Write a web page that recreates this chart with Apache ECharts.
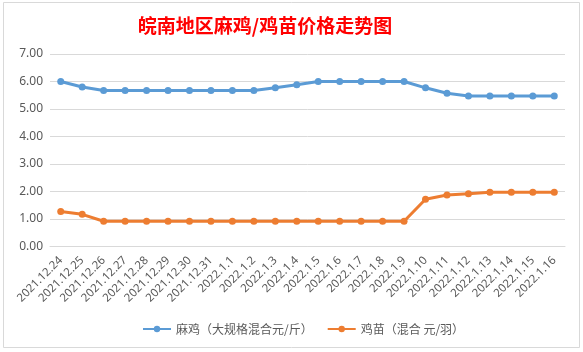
<!DOCTYPE html>
<html>
<head>
<meta charset="utf-8">
<script src="https://cdn.jsdelivr.net/npm/echarts@6/dist/echarts.min.js"></script>
<style>
  html, body { margin: 0; padding: 0; background: #fff; }
  #chart { width: 583px; height: 352px; }
</style>
</head>
<body>
<div id="chart"></div>
<script>
// 日期
const dates = [
  '2021.12.24', '2021.12.25', '2021.12.26', '2021.12.27', '2021.12.28', '2021.12.29',
  '2021.12.30', '2021.12.31', '2022.1.1', '2022.1.2', '2022.1.3', '2022.1.4',
  '2022.1.5', '2022.1.6', '2022.1.7', '2022.1.8', '2022.1.9', '2022.1.10',
  '2022.1.11', '2022.1.12', '2022.1.13', '2022.1.14', '2022.1.15', '2022.1.16'
];
// 麻鸡（大规格混合元/斤）
const majiPrice = [
  6.0, 5.8, 5.67, 5.67, 5.67, 5.67, 5.67, 5.67, 5.67, 5.67, 5.77, 5.88,
  6.0, 6.0, 6.0, 6.0, 6.0, 5.77, 5.57, 5.47, 5.47, 5.47, 5.47, 5.47
];
// 鸡苗（混合 元/羽）
const jimiaoPrice = [
  1.27, 1.17, 0.92, 0.92, 0.92, 0.92, 0.92, 0.92, 0.92, 0.92, 0.92, 0.92,
  0.92, 0.92, 0.92, 0.92, 0.92, 1.72, 1.87, 1.92, 1.97, 1.97, 1.97, 1.97
];
const seriesNames = ['麻鸡（大规格混合元/斤）', '鸡苗（混合 元/羽）'];

const chart = echarts.init(document.getElementById('chart'));

const option = {
  backgroundColor: '#fff',
  animation: false,
  title: {
    text: '皖南地区麻鸡/鸡苗价格走势图',
    left: 260,
    textAlign: 'center',
    top: 11,
    textStyle: {
      color: '#ff0000',
      fontSize: 19,
      fontWeight: 'bold',
      fontFamily: 'Noto Sans CJK SC'
    }
  },
  graphic: [{
    type: 'rect',
    shape: { x: 3.5, y: 2.5, width: 576, height: 345 },
    style: { fill: 'none', stroke: '#d9d9d9', lineWidth: 1 },
    silent: true
  }],
  legend: {
    data: seriesNames,
    bottom: 12,
    left: 137,
    itemWidth: 28,
    itemHeight: 8,
    itemGap: 14,
    textStyle: { color: '#595959', fontSize: 12, fontFamily: 'Noto Sans CJK SC' }
  },
  grid: {
    left: 50,
    right: 18,
    top: 54,
    bottom: 105.5
  },
  xAxis: {
    type: 'category',
    data: dates,
    boundaryGap: true,
    axisLine: { show: true, lineStyle: { color: '#d9d9d9' } },
    axisTick: { show: false },
    axisLabel: {
      rotate: 45,
      interval: 0,
      color: '#595959',
      fontSize: 11.5,
      margin: 12,
      fontFamily: 'Noto Sans'
    }
  },
  yAxis: {
    type: 'value',
    min: 0,
    max: 7,
    interval: 1,
    axisLine: { show: false },
    axisTick: { show: false },
    splitLine: { lineStyle: { color: '#d9d9d9' } },
    axisLabel: {
      color: '#595959',
      fontSize: 12,
      margin: 7,
      fontFamily: 'Noto Sans',
      formatter: v => v.toFixed(2)
    }
  },
  series: [
    {
      name: seriesNames[0],
      type: 'line',
      data: majiPrice,
      symbol: 'circle',
      symbolSize: 7,
      lineStyle: { width: 3, color: '#5b9bd5' },
      itemStyle: { color: '#5b9bd5' }
    },
    {
      name: seriesNames[1],
      type: 'line',
      data: jimiaoPrice,
      symbol: 'circle',
      symbolSize: 7,
      lineStyle: { width: 3, color: '#ed7d31' },
      itemStyle: { color: '#ed7d31' }
    }
  ]
};

chart.setOption(option);
</script>
</body>
</html>
